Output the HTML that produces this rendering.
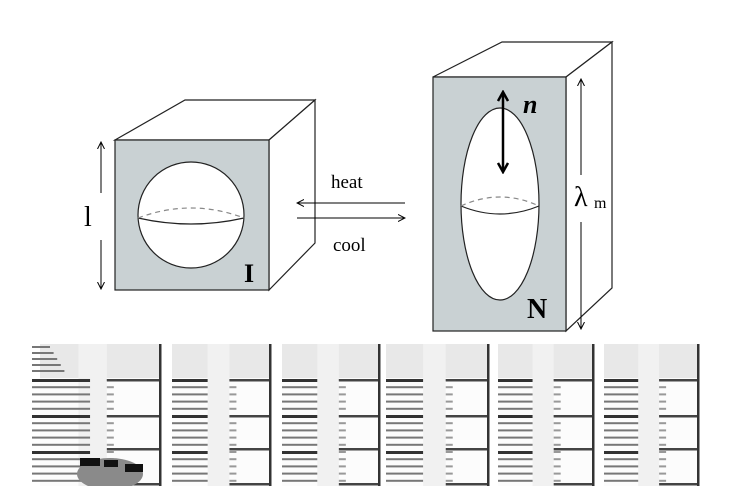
<!DOCTYPE html>
<html><head><meta charset="utf-8"><style>
html,body{margin:0;padding:0;background:#fff;}
svg{display:block;}
text{font-family:"Liberation Serif",serif;}
</style></head><body>
<svg id="s" width="741" height="486" viewBox="0 0 741 486" xmlns="http://www.w3.org/2000/svg">
<defs>
<marker id="ah" markerWidth="8" markerHeight="8" refX="7" refY="4" orient="auto" markerUnits="userSpaceOnUse"><path d="M0,0.5 L7,4 L0,7.5" fill="none" stroke="#000" stroke-width="1"/></marker>
<marker id="ahb" markerWidth="12" markerHeight="12" refX="10" refY="6" orient="auto" markerUnits="userSpaceOnUse"><path d="M1,1 L10,6 L1,11" fill="none" stroke="#000" stroke-width="2.5"/></marker>
</defs>
<g stroke="#222" stroke-width="1.2" fill="none">
<path d="M115,140 L185,100 L315,100 L269,140 Z" fill="#fff"/>
<path d="M269,140 L315,100 L315,243 L269,290 Z" fill="#fff"/>
<rect x="115" y="140" width="154" height="150" fill="#c9d1d3"/>
<circle cx="191" cy="215" r="53" fill="#fff"/>
<path d="M138,218 Q191,230 244,218" />
<path d="M138,218 Q191,198 244,218" stroke="#888" stroke-dasharray="5,4"/>
</g>
<line x1="101" y1="193" x2="101" y2="142" stroke="#000" marker-end="url(#ah)"/>
<line x1="101" y1="240" x2="101" y2="289" stroke="#000" marker-end="url(#ah)"/>
<text x="84" y="226" font-size="28">l</text>
<text x="244" y="282" font-size="26" font-weight="bold">I</text>
<line x1="405" y1="203" x2="297" y2="203" stroke="#000" marker-end="url(#ah)"/>
<line x1="297" y1="218" x2="405" y2="218" stroke="#000" marker-end="url(#ah)"/>
<text x="331" y="188" font-size="19">heat</text>
<text x="333" y="251" font-size="19">cool</text>
<g stroke="#222" stroke-width="1.2" fill="none">
<path d="M433,77 L502,42 L612,42 L566,77 Z" fill="#fff"/>
<path d="M566,77 L612,42 L612,288 L566,331 Z" fill="#fff"/>
<rect x="433" y="77" width="133" height="254" fill="#c9d1d3"/>
<ellipse cx="500" cy="204" rx="39" ry="96" fill="#fff"/>
<path d="M461,206 Q500,222 539,206"/>
<path d="M461,206 Q500,188 539,206" stroke="#888" stroke-dasharray="5,4"/>
</g>
<line x1="503" y1="132" x2="503" y2="92" stroke="#000" stroke-width="2.5" marker-end="url(#ahb)"/>
<line x1="503" y1="132" x2="503" y2="172" stroke="#000" stroke-width="2.5" marker-end="url(#ahb)"/>
<text x="523" y="113" font-size="26" font-weight="bold" font-style="italic">n</text>
<line x1="581" y1="175" x2="581" y2="79" stroke="#000" marker-end="url(#ah)"/>
<line x1="581" y1="222" x2="581" y2="329" stroke="#000" marker-end="url(#ah)"/>
<text x="574" y="206" font-size="28">λ</text>
<text x="594" y="208" font-size="16">m</text>
<text x="527" y="318" font-size="28" font-weight="bold">N</text>
<g id="photos"></g>
</svg>
<script>
var g=document.getElementById('photos'),ns='http://www.w3.org/2000/svg';
function el(t,a){var e=document.createElementNS(ns,t);for(var k in a)e.setAttribute(k,a[k]);g.appendChild(e);return e;}
var P=[[32,161],[172,271],[282,380],[386,489],[498,594],[604,699]];
P.forEach(function(p,i){
 var L=p[0],R=p[1],W=R-L;
 var lx=i==0?L+8:L;
 el('rect',{x:lx,y:344,width:R-lx,height:34,fill:'#e8e8e8'});
 el('rect',{x:lx,y:378,width:R-lx,height:108,fill:'#fcfcfc'});
 var bw=W*0.36, cx=L+bw, cw=W*0.22;
 el('rect',{x:cx,y:344,width:cw,height:142,fill:'#f1f1f1'});
 var majors=[380,416,449,484];
 for(var y=380;y<486;y+=7.2){
  var maj=majors.some(function(m){return Math.abs(m-y)<3});
  el('rect',{x:L,y:y-1,width:(i==0?W*0.45:bw),height:maj?3:2,fill:maj?'#333':'#777'});
  el('rect',{x:cx+cw,y:y-1,width:7,height:2,fill:'#999'});
 }
 majors.forEach(function(m){el('rect',{x:cx+cw,y:m-1,width:R-cx-cw,height:2.5,fill:'#444'});});
 el('rect',{x:R-2,y:344,width:2.5,height:142,fill:'#333'});
});
for(var y=346;y<376;y+=6){el('rect',{x:32,y:y,width:18+(y-346)*0.6,height:2,fill:'#777'});}
el('ellipse',{cx:110,cy:474,rx:33,ry:16,fill:'#8a8a8a'});
el('rect',{x:80,y:458,width:20,height:8,fill:'#111'});
el('rect',{x:104,y:460,width:14,height:7,fill:'#111'});
el('rect',{x:125,y:464,width:18,height:8,fill:'#111'});
</script>
</body></html>
